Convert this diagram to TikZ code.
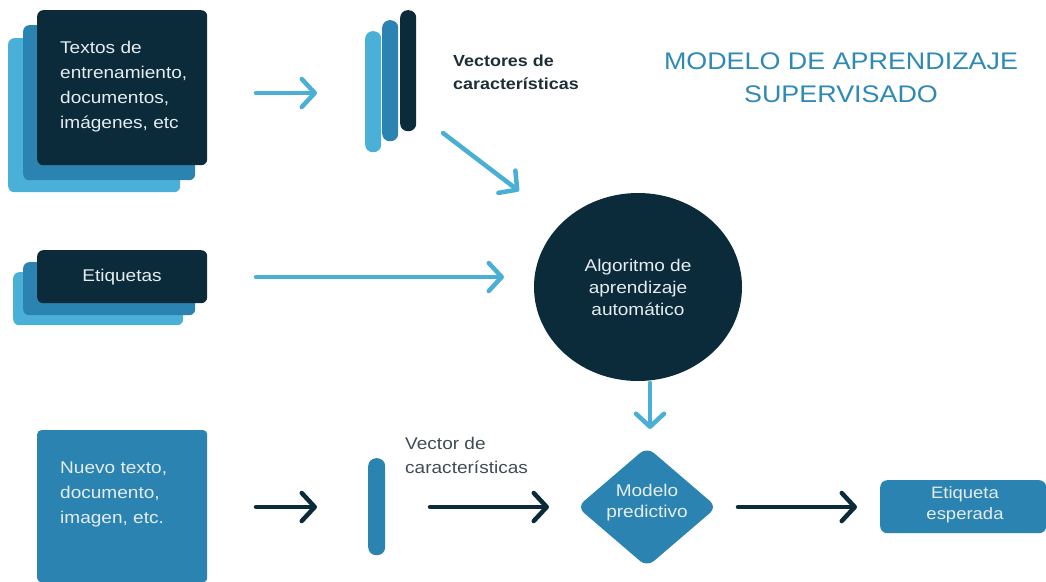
\documentclass[tikz,border=0pt]{standalone}
\usepackage{fontspec}
\setmainfont{Liberation Sans}[FakeStretch=1.12]
\usetikzlibrary{arrows.meta,shapes.geometric}
\definecolor{navy}{HTML}{0B2B3B}
\definecolor{midblue}{HTML}{2A83B0}
\definecolor{lightblue}{HTML}{4BB0D8}
\definecolor{arrowblue}{HTML}{4AAFD5}
\definecolor{titleblue}{HTML}{2E8AB5}
\definecolor{boxtext}{HTML}{E6EDF0}
\definecolor{darktext}{HTML}{1E2E37}
\definecolor{graytext}{HTML}{3E4C54}
\tikzset{
  card/.style={anchor=north west, inner sep=0pt, rounded corners=6pt},
  bar/.style={anchor=north west, inner sep=0pt, minimum width=16pt, rounded corners=7.5pt},
  arrL/.style={draw=arrowblue, line width=4.5pt, line cap=round, -{Straight Barb[length=13pt,width=28pt,line cap=round,line join=round]}},
  arrD/.style={draw=navy, line width=4.5pt, line cap=round, -{Straight Barb[length=13pt,width=28pt,line cap=round,line join=round]}},
  txt/.style={inner sep=0pt, font=\fontsize{17}{25}\selectfont},
}
\begin{document}
\begin{tikzpicture}[x=1pt,y=-1pt]
\useasboundingbox (0,0) rectangle (1046,581);
% training stack
\node[card, fill=lightblue, minimum width=172pt, minimum height=154pt] (t3) at (8,38) {};
\node[card, fill=midblue, minimum width=172pt, minimum height=155pt] (t2) at (23,25) {};
\node[card, fill=navy, minimum width=170pt, minimum height=155pt] (t1) at (37,10) {};
\node[txt, anchor=north west, align=left, text=boxtext] (t1txt) at (60,41) {Textos de\\entrenamiento,\\documentos,\\imágenes, etc};
% labels stack
\node[card, fill=lightblue, minimum width=170pt, minimum height=53pt] (e3) at (13,272) {};
\node[card, fill=midblue, minimum width=172pt, minimum height=53pt] (e2) at (23,262) {};
\node[card, fill=navy, minimum width=170pt, minimum height=53pt] (e1) at (37,250) {};
\node[txt, text=boxtext] (e1txt) at (122,277) {Etiquetas};
% vector bars
\node[bar, fill=lightblue, minimum height=121pt] (v3) at (365,31) {};
\node[bar, fill=midblue, minimum height=121pt] (v2) at (382,20) {};
\node[bar, fill=navy, minimum height=121pt] (v1) at (400,10) {};
\node[inner sep=0pt, anchor=west, align=left, text=darktext, font=\bfseries\fontsize{16}{23}\selectfont] (vtxt) at (453,72) {Vectores de\\características};
% title
\node[inner sep=0pt, align=center, text=titleblue, font=\fontsize{24}{33}\selectfont] (title) at (841,78) {MODELO DE APRENDIZAJE\\SUPERVISADO};
% algorithm
\node[ellipse, fill=navy, minimum width=208pt, minimum height=188pt, inner sep=0pt, align=center, text=boxtext, font=\fontsize{17}{22}\selectfont] (alg) at (638,287) {Algoritmo de\\aprendizaje\\automático};
% new input
\node[card, rounded corners=4pt, fill=midblue, minimum width=170pt, minimum height=152pt] (n1) at (37,430) {};
\node[txt, anchor=north west, align=left, text=boxtext] (n1txt) at (60,462) {Nuevo texto,\\documento,\\imagen, etc.};
\node[bar, fill=midblue, minimum width=17pt, minimum height=97pt, rounded corners=8pt] (vb) at (368,458) {};
\node[inner sep=0pt, anchor=west, align=left, text=graytext, font=\fontsize{17}{24}\selectfont] (vbtxt) at (405,455) {Vector de\\características};
% model
\node[diamond, fill=midblue, minimum width=140pt, minimum height=120pt, inner sep=0pt, rounded corners=9pt] (mod) at (647,507) {};
\node[inner sep=0pt, align=center, text=boxtext, font=\fontsize{17}{21}\selectfont] (modtxt) at (647,503) {Modelo\\predictivo};
% output
\node[card, rounded corners=7pt, fill=midblue, minimum width=166pt, minimum height=53pt] (out) at (880,480) {};
\node[inner sep=0pt, align=center, text=boxtext, font=\fontsize{16.5}{21}\selectfont] (outtxt) at (965,505) {Etiqueta\\esperada};
% arrow endpoints
\coordinate (a1s) at (256,93); \coordinate (a1e) at (317,93);
\coordinate (a2s) at (443,133); \coordinate (a2e) at (519,191);
\coordinate (a3s) at (256,277); \coordinate (a3e) at (504,277);
\coordinate (a4s) at (650,383); \coordinate (a4e) at (650,429);
\coordinate (a5s) at (256,507); \coordinate (a5e) at (317,507);
\coordinate (a6s) at (430,507); \coordinate (a6e) at (549,507);
\coordinate (a7s) at (738,507); \coordinate (a7e) at (857,507);
\draw[arrL] (a1s) -- (a1e);
\draw[arrL] (a2s) -- (a2e);
\draw[arrL] (a3s) -- (a3e);
\draw[arrL] (a4s) -- (a4e);
\draw[arrD] (a5s) -- (a5e);
\draw[arrD] (a6s) -- (a6e);
\draw[arrD] (a7s) -- (a7e);
\end{tikzpicture}
\end{document}
